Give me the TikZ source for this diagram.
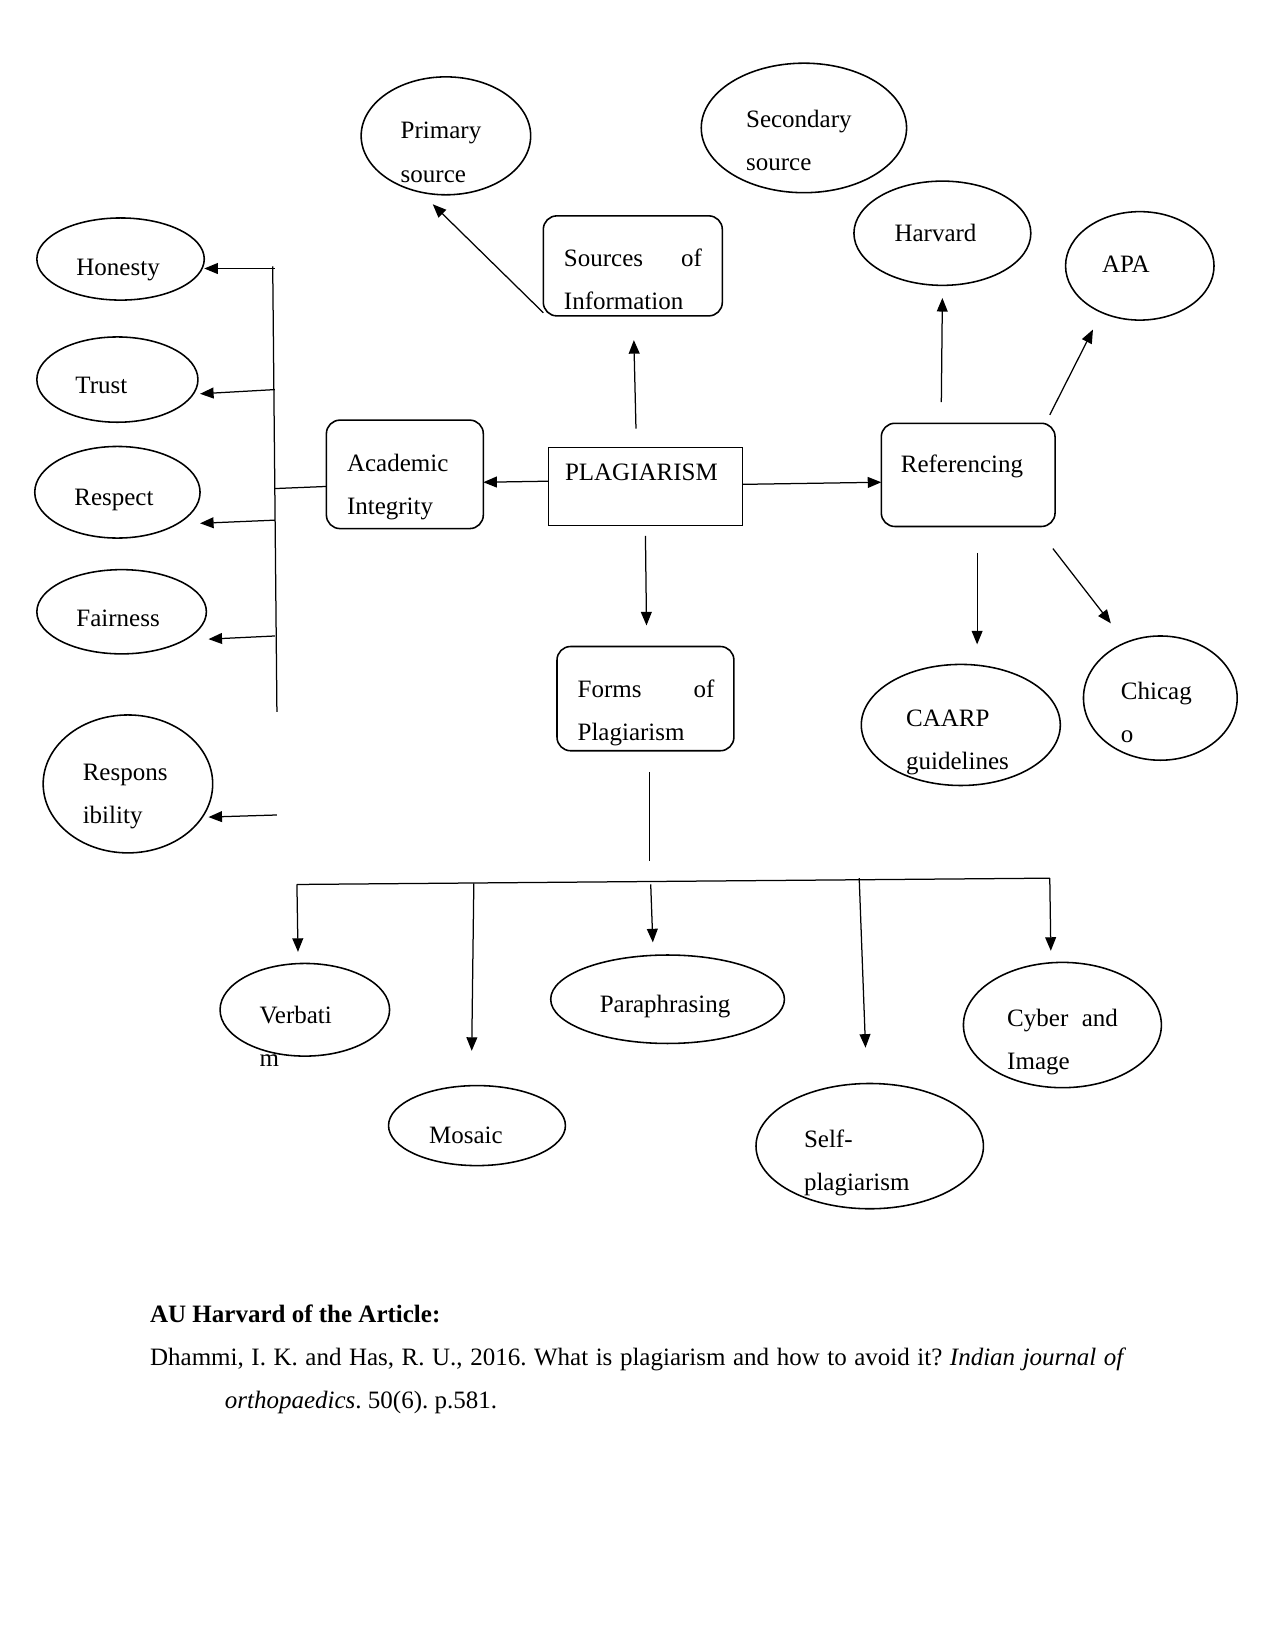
\documentclass[tikz,border=0pt]{standalone}
\usepackage{fontspec}
\setmainfont{Liberation Serif}
\usetikzlibrary{shapes.geometric,arrows.meta}
\frenchspacing
\begin{document}
\begin{tikzpicture}[x=0.50535pt,y=-0.50535pt,
  line width=0.6pt,
  el/.style 2 args={draw,ellipse,line width=0.75pt,inner sep=0pt,outer sep=0pt,minimum width=#1*0.50535pt,minimum height=#2*0.50535pt},
  rbox/.style 2 args={draw,rectangle,rounded corners=6.5pt,line width=0.75pt,inner sep=0pt,outer sep=0pt,minimum width=#1*0.50535pt,minimum height=#2*0.50535pt},
  sbox/.style 2 args={draw,rectangle,line width=0.5pt,inner sep=0pt,outer sep=0pt,minimum width=#1*0.50535pt,minimum height=#2*0.50535pt},
  tx/.style={anchor=base west,inner sep=0pt,font=\fontsize{12}{14}\selectfont},
  arr/.style={-{Triangle[length=6.5pt,width=5.2pt]}},
]
\useasboundingbox (0,0) rectangle (1211,1568);

% ellipses
\node[el={161}{112}] (prim) at (423.5,129) {};
\node[el={195}{123}] (sec) at (763.5,121.5) {};
\node[el={168}{99}] (harv) at (895,221.5) {};
\node[el={141}{103}] (apa) at (1082.5,252.5) {};
\node[el={159}{78}] (hon) at (114.5,246) {};
\node[el={153}{81}] (tru) at (111.5,360.5) {};
\node[el={157}{87}] (res) at (111.5,467.5) {};
\node[el={161}{80}] (fai) at (115.5,581) {};
\node[el={161}{131}] (rsp) at (121.5,744.5) {};
\node[el={189}{115}] (caarp) at (912.5,688.5) {};
\node[el={146}{118}] (chi) at (1102,663) {};
\node[el={161}{88}] (verb) at (289.5,959) {};
\node[el={168}{76}] (mos) at (453,1069) {};
\node[el={222}{84}] (para) at (634,949) {};
\node[el={216}{119}] (self) at (826,1088.5) {};
\node[el={188}{119}] (cyb) at (1009,973.5) {};

% boxes
\node[rbox={170}{95}] (src) at (601,252.5) {};
\node[rbox={149}{103}] (acad) at (384.5,450.5) {};
\node[sbox={184}{74}] (plag) at (613,462) {};
\node[rbox={165}{98}] (ref) at (919.5,451) {};
\node[rbox={168}{99}] (forms) at (613,663.5) {};

% texts
\node[tx] (t1) at (380,132) {Primary};
\node[tx] (t2) at (380,173) {source};
\node[tx] (t3) at (708,121) {Secondary};
\node[tx] (t4) at (708,162) {source};
\node[tx] (t5) at (535,253) {\makebox[66.2pt][l]{Sources\hfill of}};
\node[tx] (t6) at (535,294) {Information};
\node[tx] (t7) at (849,229) {Harvard};
\node[tx] (t8) at (1046,259) {APA};
\node[tx] (t9) at (72,262) {Honesty};
\node[tx] (t10) at (71,374) {Trust};
\node[tx] (t11) at (70,480) {Respect};
\node[tx] (t12) at (72,595) {Fairness};
\node[tx] (t13) at (78,741) {Respons};
\node[tx] (t14) at (78,782) {ibility};
\node[tx] (t15) at (329,448) {Academic};
\node[tx] (t16) at (329,489) {Integrity};
\node[tx] (t17) at (536,456) {PLAGIARISM};
\node[tx] (t18) at (855,449) {Referencing};
\node[tx] (t19) at (548,662) {\makebox[65.7pt][l]{Forms\hfill of}};
\node[tx] (t20) at (548,703) {Plagiarism};
\node[tx] (t21) at (860,690) {CAARP};
\node[tx] (t22) at (860,731) {guidelines};
\node[tx] (t23) at (1064,664) {Chicag};
\node[tx] (t24) at (1064,705) {o};
\node[tx] (t25) at (246,972) {Verbati};
\node[tx] (t26) at (246,1013) {m};
\node[tx] (t27) at (407,1086) {Mosaic};
\node[tx] (t28) at (569,962) {Paraphrasing};
\node[tx] (t29) at (763,1090) {Self-};
\node[tx] (t30) at (763,1131) {plagiarism};
\node[tx] (t31) at (956,975) {\makebox[53.1pt][l]{Cyber\hfill and}};
\node[tx] (t32) at (956,1016) {Image};
\node[tx] (t33) at (142,1256) {\textbf{AU Harvard of the Article:}};
\node[tx] (t34) at (142,1297) {\makebox[468.5pt][s]{Dhammi, I. K. and Has, R. U., 2016. What is plagiarism and how to avoid it? \textit{Indian journal of}}};
\node[tx] (t35) at (213,1338) {\textit{orthopaedics}. 50(6). p.581.};

% free-end coordinates
\coordinate (pTip) at (411,194);
\coordinate (upS) at (604,407);
\coordinate (upE) at (602,323);
\coordinate (dnS) at (613,509);
\coordinate (dnE) at (614,594);
\coordinate (hS) at (894,382);
\coordinate (hE) at (895,283);
\coordinate (aS) at (997,394);
\coordinate (aE) at (1038,313);
\coordinate (cS) at (928,525);
\coordinate (cE) at (928,612);
\coordinate (chS) at (1000,521);
\coordinate (chE) at (1055,592);
\coordinate (busT) at (259,253);
\coordinate (busB) at (263,676);
\coordinate (bHon) at (261,255);
\coordinate (bTru) at (261,370);
\coordinate (bRes) at (261,494);
\coordinate (bFai) at (261,604);
\coordinate (bAc) at (261,464);
\coordinate (rS) at (263,774);
\coordinate (eHon) at (194,255);
\coordinate (eTru) at (190,374);
\coordinate (eRes) at (190,497);
\coordinate (eFai) at (198,607);
\coordinate (eRsp) at (198,776);
\coordinate (fS) at (617,733);
\coordinate (fE) at (617,818);
\coordinate (bbL) at (282,840);
\coordinate (bbR) at (997,834);
\coordinate (vE) at (283,904);
\coordinate (mS) at (450,839);
\coordinate (mE) at (448,998);
\coordinate (pS) at (618,840);
\coordinate (pE) at (620,895);
\coordinate (sS) at (816,834);
\coordinate (sE) at (822,995);
\coordinate (cyE) at (998,903);

% connectors
\draw[arr] (src.south west) ++(0,-3) -- (pTip);
\draw[arr] (upS) -- (upE);
\draw[arr] (plag.west |- 0,457) -- (acad.east |- 0,458);
\draw[arr] (plag.east |- 0,460) -- (ref.west |- 0,458);
\draw[arr] (dnS) -- (dnE);
\draw[arr] (hS) -- (hE);
\draw[arr] (aS) -- (aE);
\draw[arr] (cS) -- (cE);
\draw[arr] (chS) -- (chE);
\draw (acad.west |- 0,462) -- (bAc);
\draw (busT) -- (busB);
\draw[arr] (bHon) -- (eHon);
\draw[arr] (bTru) -- (eTru);
\draw[arr] (bRes) -- (eRes);
\draw[arr] (bFai) -- (eFai);
\draw[arr] (rS) -- (eRsp);
\draw (fS) -- (fE);
\draw (bbL) -- (bbR);
\draw[arr] (bbL) -- (vE);
\draw[arr] (mS) -- (mE);
\draw[arr] (pS) -- (pE);
\draw[arr] (sS) -- (sE);
\draw[arr] (bbR) -- (cyE);
\end{tikzpicture}
\end{document}
